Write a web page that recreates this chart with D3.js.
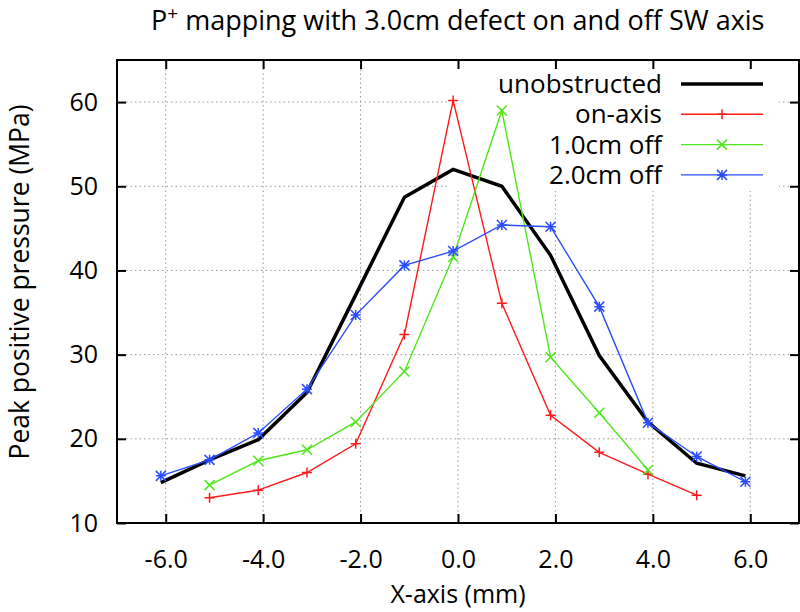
<!DOCTYPE html>
<html>
<head>
<meta charset="utf-8">
<script src="https://cdn.jsdelivr.net/npm/d3@7"></script>
<style>
  html, body { margin: 0; padding: 0; background: #fff; }
  svg { display: block; }
  text { font-family: "Open Sans", Lato, sans-serif; fill: #000; }
</style>
</head>
<body>
<svg id="chart" width="800" height="612"></svg>
<script>
// ---- data ----
const xPositions = [-6.1, -5.1, -4.1, -3.1, -2.1, -1.1, -0.1, 0.9, 1.9, 2.9, 3.9, 4.9, 5.9];
const unobstructed = [14.8, 17.5, 19.9, 25.5, 37.1, 48.7, 52.0, 50.0, 41.8, 29.9, 22.0, 17.1, 15.6];
const onAxisX = [-5.1, -4.1, -3.1, -2.1, -1.1, -0.1, 0.9, 1.9, 2.9, 3.9, 4.9];
const onAxis = [13.0, 13.9, 16.0, 19.4, 32.4, 60.2, 36.1, 22.8, 18.4, 15.8, 13.3];
const off1X = [-5.1, -4.1, -3.1, -2.1, -1.1, -0.1, 0.9, 1.9, 2.9, 3.9];
const off1 = [14.5, 17.4, 18.7, 22.0, 28.0, 41.6, 59.0, 29.7, 23.1, 16.3];
const off2X = [-6.1, -5.1, -4.1, -3.1, -2.1, -1.1, -0.1, 0.9, 1.9, 2.9, 3.9, 4.9, 5.9];
const off2 = [15.6, 17.5, 20.7, 25.9, 34.7, 40.6, 42.3, 45.4, 45.2, 35.7, 21.9, 17.9, 14.9];

const seriesNames = ["unobstructed", "on-axis", "1.0cm off", "2.0cm off"];
const xTicks = [-6, -4, -2, 0, 2, 4, 6];
const xTickLabels = ["-6.0", "-4.0", "-2.0", "0.0", "2.0", "4.0", "6.0"];
const yTicks = [10, 20, 30, 40, 50, 60];
const yTickLabels = ["10", "20", "30", "40", "50", "60"];
const xDomain = [-7, 7];
const yDomain = [10, 65];

// ---- layout ----
const W = 800, H = 612;
const L = 117, R = 799, T = 60, B = 523;
const svg = d3.select("#chart");

const x = d3.scaleLinear().domain(xDomain).range([L, R]);
const y = d3.scaleLinear().domain(yDomain).range([B, T]);

const series = [
  { name: seriesNames[0], xs: xPositions, ys: unobstructed, color: "#000000", width: 3.5, marker: null },
  { name: seriesNames[1], xs: onAxisX, ys: onAxis, color: "#ff1a1a", width: 1.4, marker: "plus" },
  { name: seriesNames[2], xs: off1X, ys: off1, color: "#4fe61a", width: 1.4, marker: "cross" },
  { name: seriesNames[3], xs: off2X, ys: off2, color: "#2a4dff", width: 1.4, marker: "star" }
];

// grid
const grid = svg.append("g").attr("stroke", "#999").attr("stroke-width", 1).attr("stroke-dasharray", "1.5,3");
grid.selectAll("line.gx").data(xTicks).join("line")
  .attr("x1", d => x(d)).attr("x2", d => x(d)).attr("y1", T).attr("y2", B);
grid.selectAll("line.gy").data(yTicks.filter(d => d > yDomain[0])).join("line")
  .attr("x1", L).attr("x2", R).attr("y1", d => y(d)).attr("y2", d => y(d));

// key background (clears grid)
const keyBox = { x0: 447, x1: 779, y0: 61, y1: 191 };
svg.append("rect").attr("x", keyBox.x0).attr("y", keyBox.y0)
  .attr("width", keyBox.x1 - keyBox.x0).attr("height", keyBox.y1 - keyBox.y0).attr("fill", "#fff");

// axes with inward ticks
const tickLen = 9;
const axisBottom = d3.axisBottom(x).tickValues(xTicks).tickSizeInner(-tickLen).tickSizeOuter(0)
  .tickFormat((d, i) => xTickLabels[i]).tickPadding(tickLen + 18);
const axisTop = d3.axisTop(x).tickValues(xTicks).tickSizeInner(-tickLen).tickSizeOuter(0).tickFormat("");
const axisLeft = d3.axisLeft(y).tickValues(yTicks).tickSizeInner(-tickLen).tickSizeOuter(0)
  .tickFormat((d, i) => yTickLabels[i]).tickPadding(tickLen + 10);
const axisRight = d3.axisRight(y).tickValues(yTicks).tickSizeInner(-tickLen).tickSizeOuter(0).tickFormat("");

function styleAxis(g) {
  g.select(".domain").remove();
  g.selectAll(".tick line").attr("stroke", "#000").attr("stroke-width", 2);
  g.selectAll(".tick text").attr("font-size", 25).attr("font-family", "'Open Sans', Lato, sans-serif").attr("fill", "#000");
}
svg.append("g").attr("transform", `translate(0,${B})`).call(axisBottom).call(styleAxis);
svg.append("g").attr("transform", `translate(0,${T})`).call(axisTop).call(styleAxis);
svg.append("g").attr("transform", `translate(${L},0)`).call(axisLeft).call(styleAxis);
svg.append("g").attr("transform", `translate(${R},0)`).call(axisRight).call(styleAxis);

// frame
svg.append("rect").attr("x", L).attr("y", T).attr("width", R - L).attr("height", B - T)
  .attr("fill", "none").attr("stroke", "#000").attr("stroke-width", 2);

// markers
function drawMarker(g, type, cx, cy, color) {
  const s = 5;
  const p = g.append("path").attr("stroke", color).attr("stroke-width", 1.5).attr("fill", "none");
  let d = "";
  if (type === "plus" || type === "star") d += `M${cx - s},${cy}H${cx + s}M${cx},${cy - s}V${cy + s}`;
  if (type === "cross" || type === "star") d += `M${cx - s},${cy - s}L${cx + s},${cy + s}M${cx - s},${cy + s}L${cx + s},${cy - s}`;
  p.attr("d", d);
}

// lines
const line = d3.line().x(d => x(d[0])).y(d => y(d[1]));
const plot = svg.append("g");
series.forEach(s => {
  const pts = s.xs.map((xv, i) => [xv, s.ys[i]]);
  plot.append("path").datum(pts).attr("d", line).attr("fill", "none")
    .attr("stroke", s.color).attr("stroke-width", s.width).attr("stroke-linejoin", "miter");
  if (s.marker) pts.forEach(p => drawMarker(plot, s.marker, x(p[0]), y(p[1]), s.color));
});

// legend
const legend = svg.append("g");
const legTextX = 662, legLine0 = 681, legLine1 = 763;
series.forEach((s, i) => {
  const cy = 84 + i * 30.3;
  legend.append("text").attr("x", legTextX).attr("y", cy + 9).attr("text-anchor", "end")
    .attr("font-size", 26).text(s.name);
  legend.append("line").attr("x1", legLine0).attr("x2", legLine1).attr("y1", cy).attr("y2", cy)
    .attr("stroke", s.color).attr("stroke-width", s.width);
  if (s.marker) drawMarker(legend, s.marker, (legLine0 + legLine1) / 2, cy, s.color);
});

// title
const title = svg.append("text").attr("x", 151).attr("y", 30).attr("font-size", 27);
title.append("tspan").text("P");
title.append("tspan").attr("dy", -10).attr("font-size", 19).text("+");
title.append("tspan").attr("dy", 10).text(" mapping with 3.0cm defect on and off SW axis");

// axis labels
svg.append("text").attr("x", (L + R) / 2).attr("y", 603).attr("text-anchor", "middle")
  .attr("font-size", 25).text("X-axis (mm)");
svg.append("text").attr("transform", `translate(29,282) rotate(-90)`).attr("text-anchor", "middle")
  .attr("font-size", 26.5).text("Peak positive pressure (MPa)");
</script>
</body>
</html>
